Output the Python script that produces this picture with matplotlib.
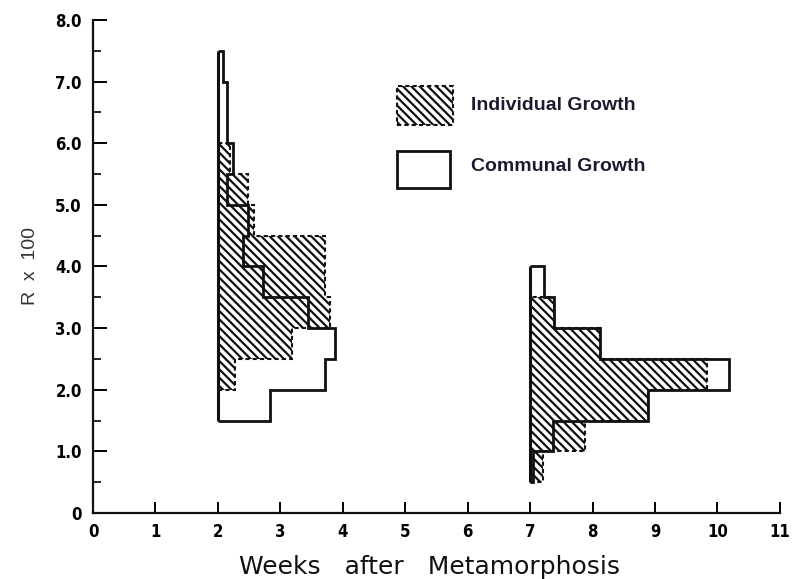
import numpy as np
import matplotlib
matplotlib.use("Agg")
import matplotlib.pyplot as plt
import matplotlib.patches as mpatches
from matplotlib.ticker import MultipleLocator

# ── data (R x 100 bins, bar length in weeks from the start week) ─────────────
# group measured at week 2
START_A      = 2.0
COMM_EDGES_A = [1.5, 2.0, 2.5, 3.0, 3.5, 4.0, 4.5, 5.0, 5.5, 6.0, 6.5, 7.0, 7.5]
COMM_A       = [0.83, 1.72, 1.88, 1.45, 0.72, 0.40, 0.48, 0.14, 0.24, 0.15, 0.15, 0.08]
INDIV_EDGES_A = [2.0, 2.5, 3.0, 3.5, 4.0, 4.5, 5.0, 5.5, 6.0]
INDIV_A       = [0.27, 1.19, 1.80, 1.72, 1.72, 0.58, 0.48, 0.20]

# group measured at week 7
START_B      = 7.0
COMM_EDGES_B = [0.5, 1.0, 1.5, 2.0, 2.5, 3.0, 3.5, 4.0]
COMM_B       = [0.05, 0.36, 1.89, 3.19, 1.12, 0.38, 0.22]
INDIV_EDGES_B = [0.5, 1.0, 1.5, 2.0, 2.5, 3.0, 3.5]
INDIV_B       = [0.20, 0.88, 1.89, 2.84, 1.12, 0.38]

X_TICKS  = list(range(0, 12))
Y_TICKS  = [0, 1, 2, 3, 4, 5, 6, 7, 8]
Y_LABELS = ["0", "1.0", "2.0", "3.0", "4.0", "5.0", "6.0", "7.0", "8.0"]

INK  = "#111111"
TEXT = "#1c1c30"

plt.rcParams.update({
    "hatch.linewidth": 1.6,
    "hatch.color": INK,
})

fig = plt.figure(figsize=(7.99, 5.79), dpi=100)
ax = fig.add_axes([0.1164, 0.114, 0.8596, 0.8515])

hatch_kw = dict(orientation="horizontal", fill=True, facecolor="white",
                edgecolor=INK, hatch="\\\\\\\\", linewidth=1.5,
                linestyle=(0, (2, 1.5)), zorder=1)
comm_kw = dict(orientation="horizontal", fill=False, edgecolor=INK,
               linewidth=2.0, zorder=2)

# individual growth (hatched)
ax.stairs(START_A + np.array(INDIV_A), INDIV_EDGES_A, baseline=START_A, **hatch_kw)
ax.stairs(START_B + np.array(INDIV_B), INDIV_EDGES_B, baseline=START_B, **hatch_kw)
# communal growth (open outline) + the baseline it stands on
for start, edges, vals in [(START_A, COMM_EDGES_A, COMM_A),
                           (START_B, COMM_EDGES_B, COMM_B)]:
    ax.stairs(start + np.array(vals), edges, baseline=start, **comm_kw)
    ax.plot([start, start], [edges[0], edges[-1]], color=INK, lw=2.2,
            solid_capstyle="butt", zorder=3)

# ── hand-drawn style legend ──────────────────────────────────────────────────
ax.add_patch(mpatches.Rectangle((4.87, 6.30), 0.89, 0.63, facecolor="white",
                                edgecolor=INK, hatch="\\\\\\\\", linewidth=1.5,
                                linestyle=(0, (2, 1.5))))
ax.add_patch(mpatches.Rectangle((4.87, 5.28), 0.85, 0.60, facecolor="none",
                                edgecolor=INK, linewidth=2.0))
ax.text(6.05, 6.62, "Individual Growth", fontsize=14, fontweight="bold",
        family="Liberation Sans", color=TEXT, va="center", ha="left")
ax.text(6.05, 5.62, "Communal Growth", fontsize=14, fontweight="bold",
        family="Liberation Sans", color=TEXT, va="center", ha="left")

# ── axes ─────────────────────────────────────────────────────────────────────
ax.set_xlim(0, 11)
ax.set_ylim(0, 8)
for s in ["top", "right"]:
    ax.spines[s].set_visible(False)
for s in ["left", "bottom"]:
    ax.spines[s].set_linewidth(1.6)
    ax.spines[s].set_color(INK)

tick_font = dict(family="DejaVu Sans", stretch="condensed", weight="bold", size=12)
ax.set_xticks(X_TICKS)
ax.set_xticklabels([str(t) for t in X_TICKS], fontdict=tick_font)
ax.set_yticks(Y_TICKS)
ax.set_yticklabels(Y_LABELS, fontdict=tick_font)
ax.yaxis.set_minor_locator(MultipleLocator(0.5))
ax.tick_params(axis="y", which="major", direction="in", length=10, width=1.4, pad=8)
ax.tick_params(axis="y", which="minor", direction="in", length=6, width=1.2)
ax.tick_params(axis="x", which="major", direction="in", length=8, width=1.4, pad=7)

ax.set_xlabel("Weeks   after   Metamorphosis", fontsize=18, family="DejaVu Sans",
              color=INK)
ax.xaxis.set_label_coords(0.49, -0.085)
ax.set_ylabel("R  x  100", fontsize=14, family="Liberation Sans",
              color="#333333", labelpad=12)

fig.savefig("out.png", dpi=100, facecolor="white")
